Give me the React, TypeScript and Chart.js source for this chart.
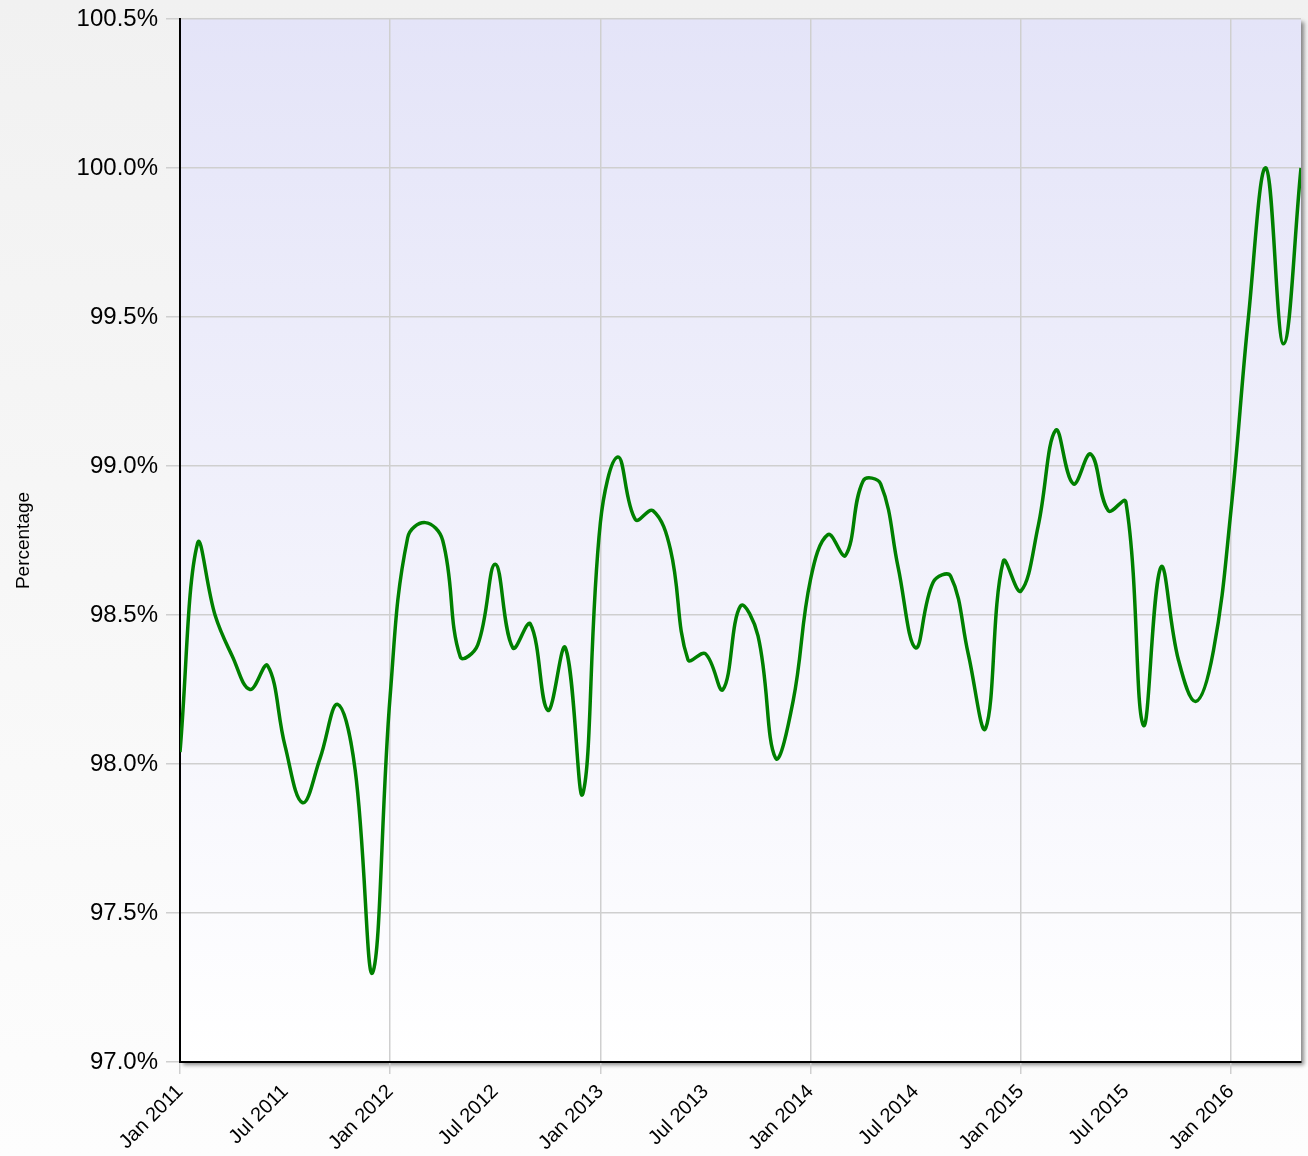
import React, { useEffect, useRef } from "react";
import { Chart, registerables } from "chart.js";

Chart.register(...registerables);

const monthNames = ["Jan", "Feb", "Mar", "Apr", "May", "Jun", "Jul", "Aug", "Sep", "Oct", "Nov", "Dec"];
const startYear = 2011;

// Monthly percentage values, Jan 2011 .. May 2016
const values2011 = [98.04, 98.74, 98.5, 98.36, 98.25, 98.33, 98.06, 97.87, 98.02, 98.2, 97.98, 97.3];
const values2012 = [98.23, 98.76, 98.81, 98.75, 98.36, 98.4, 98.67, 98.39, 98.47, 98.18, 98.39, 97.9];
const values2013 = [98.81, 99.03, 98.82, 98.85, 98.72, 98.35, 98.37, 98.25, 98.53, 98.43, 98.02, 98.21];
const values2014 = [98.62, 98.77, 98.7, 98.95, 98.94, 98.66, 98.39, 98.61, 98.63, 98.37, 98.12, 98.68];
const values2015 = [98.58, 98.8, 99.12, 98.94, 99.04, 98.85, 98.88, 98.13, 98.66, 98.35, 98.21, 98.38];
const values2016 = [98.85, 99.5, 100.0, 99.41, 100.0];

const xTickMonths = [0, 6, 12, 18, 24, 30, 36, 42, 48, 54, 60];
const yTickValues = [97.0, 97.5, 98.0, 98.5, 99.0, 99.5, 100.0, 100.5];
const yAxisTitle = "Percentage";

const allValues = [...values2011, ...values2012, ...values2013, ...values2014, ...values2015, ...values2016];
const points = allValues.map((v, i) => ({ x: i, y: v }));

const monthLabel = (i: number) => `${monthNames[i % 12]} ${startYear + Math.floor(i / 12)}`;

const backgroundPlugin = {
  id: "bgPlugin",
  beforeDraw(chart: any) {
    const { ctx, chartArea: a, width, height } = chart;
    ctx.save();
    const g = ctx.createLinearGradient(0, 0, 0, height);
    g.addColorStop(0, "#f1f1f1");
    g.addColorStop(1, "#fdfdfd");
    ctx.fillStyle = g;
    ctx.fillRect(0, 0, width, height);
    const pg = ctx.createLinearGradient(0, a.top, 0, a.bottom);
    pg.addColorStop(0, "#e4e4f8");
    pg.addColorStop(1, "#ffffff");
    ctx.shadowColor = "rgba(0,0,0,0.45)";
    ctx.shadowBlur = 4;
    ctx.shadowOffsetX = 3;
    ctx.shadowOffsetY = 3;
    ctx.fillStyle = pg;
    ctx.fillRect(a.left, a.top, a.right - a.left, a.bottom - a.top);
    ctx.restore();
  },
};

export default function App() {
  const canvasRef = useRef<HTMLCanvasElement | null>(null);

  useEffect(() => {
    if (!canvasRef.current) return;
    const chart = new Chart(canvasRef.current, {
      type: "line",
      data: {
        datasets: [
          {
            label: yAxisTitle,
            data: points,
            borderColor: "#008000",
            borderWidth: 3.5,
            pointRadius: 0,
            tension: 0.4,
            fill: false,
          },
        ],
      },
      options: {
        animation: false,
        responsive: false,
        devicePixelRatio: 1,
        layout: { padding: { top: 19, right: 7, left: 0, bottom: 0 } },
        plugins: { legend: { display: false }, tooltip: { enabled: false } },
        scales: {
          x: {
            type: "linear",
            min: 0,
            max: allValues.length - 1,
            afterBuildTicks: (scale: any) => {
              scale.ticks = xTickMonths.map((v) => ({ value: v }));
            },
            afterFit: (scale: any) => {
              scale.height = 94;
            },
            ticks: {
              autoSkip: false,
              minRotation: 45,
              maxRotation: 45,
              padding: 6,
              color: "#000",
              font: { family: "'Liberation Sans', Arial, sans-serif", size: 20 },
              callback: (v: any) => monthLabel(Number(v)),
            },
            grid: {
              color: (ctx: any) => (ctx.tick && ctx.tick.value % 12 === 0 ? "#cfcfcf" : "rgba(0,0,0,0)"),
              lineWidth: 1.5,
              tickLength: 12,
            },
            border: { color: "#000", width: 2 },
          },
          y: {
            type: "linear",
            min: 97.0,
            max: 100.5,
            afterBuildTicks: (scale: any) => {
              scale.ticks = yTickValues.map((v) => ({ value: v }));
            },
            afterFit: (scale: any) => {
              scale.width = 180;
              scale.paddingTop = 0;
              scale.paddingBottom = 0;
            },
            ticks: {
              padding: 8,
              color: "#000",
              font: { family: "'Liberation Sans', Arial, sans-serif", size: 24 },
              callback: (v: any) => Number(v).toFixed(1) + "%",
            },
            grid: { color: "#cfcfcf", lineWidth: 1.5, tickLength: 14 },
            border: { color: "#000", width: 2 },
            title: {
              display: true,
              text: yAxisTitle,
              color: "#000",
              padding: { top: 12, bottom: 0 },
              font: { family: "'Liberation Sans', Arial, sans-serif", size: 19 },
            },
          },
        },
      },
      plugins: [backgroundPlugin],
    });
    return () => chart.destroy();
  }, []);

  return (
    <div style={{ position: "absolute", left: 0, top: 0, width: 1308, height: 1156, overflow: "hidden" }}>
      <canvas ref={canvasRef} width={1308} height={1156} style={{ display: "block", width: 1308, height: 1156 }} />
    </div>
  );
}
